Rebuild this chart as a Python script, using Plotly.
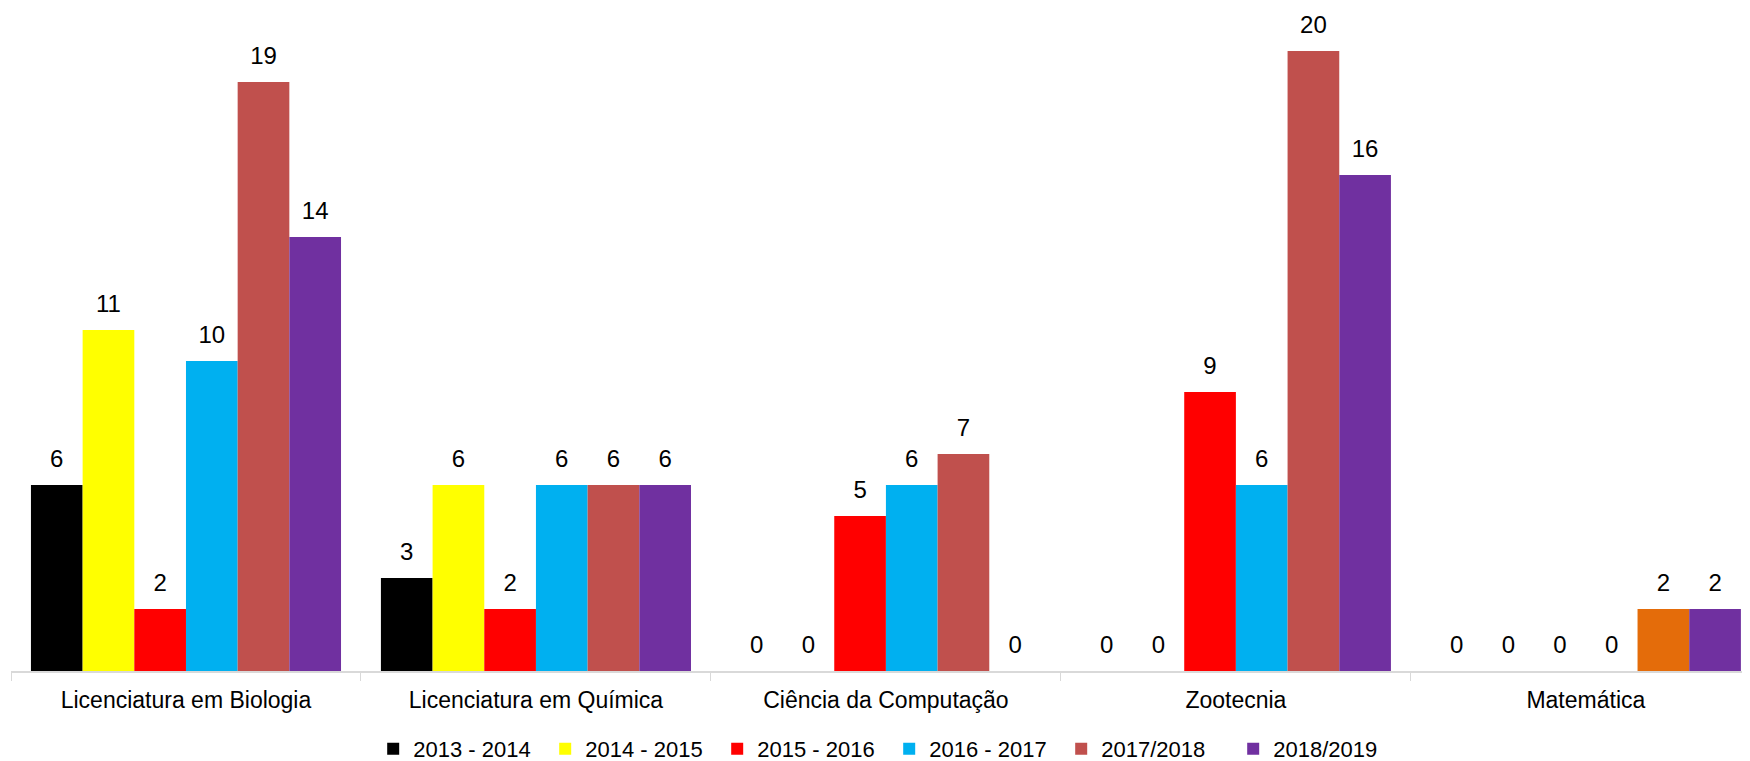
import plotly.graph_objects as go

cursos = ['Licenciatura em Biologia', 'Licenciatura em Química', 'Ciência da Computação',
          'Zootecnia', 'Matemática']
periodos = ['2013 - 2014', '2014 - 2015', '2015 - 2016', '2016 - 2017', '2017/2018', '2018/2019']

v_2013 = [6, 3, 0, 0, 0]
v_2014 = [11, 6, 0, 0, 0]
v_2015 = [2, 2, 5, 9, 0]
v_2016 = [10, 6, 6, 6, 0]
v_2017 = [19, 6, 7, 20, 2]
v_2018 = [14, 6, 0, 16, 2]

cores = ['#000000', '#FFFF00', '#FF0000', '#00B0F0', '#C0504D', '#7030A0']
# Matemática 2017/2018 aparece em laranja no original
cores_2017 = ['#C0504D', '#C0504D', '#C0504D', '#C0504D', '#E46C0A']

series = [v_2013, v_2014, v_2015, v_2016, v_2017, v_2018]

fig = go.Figure()
for i, (nome, valores) in enumerate(zip(periodos, series)):
    cor = cores_2017 if nome == '2017/2018' else cores[i]
    fig.add_trace(go.Bar(
        x=cursos, y=valores, name=nome, offsetgroup=str(i),
        marker=dict(color=cor, line=dict(width=0)),
    ))

# rótulos de dados: marcador invisível empurra o texto para cima
for i, valores in enumerate(series):
    fig.add_trace(go.Scatter(
        x=cursos, y=valores, mode='markers+text', offsetgroup=str(i),
        text=valores, textposition='top center', showlegend=False, hoverinfo='skip',
        marker=dict(size=18, opacity=0),
        textfont=dict(size=24, color='#000000', family='Arial'),
        cliponaxis=False,
    ))

# a página tem 8px de margem no body, por isso 1742x753
fig.update_layout(
    width=1742, height=753,
    barmode='group', bargap=0.114, bargroupgap=0,
    scattermode='group', scattergap=0.114,
    plot_bgcolor='white', paper_bgcolor='white',
    margin=dict(l=3, r=0, t=0, b=90, autoexpand=False),
    font=dict(family='Arial', size=22, color='#000000'),
    legend=dict(orientation='h', x=0.505, xanchor='center', y=-0.086, yanchor='top',
                font=dict(size=22), entrywidth=127, itemwidth=30,
                traceorder='normal'),
    xaxis=dict(range=[-0.5, 4.469], showline=True, linecolor='#D9D9D9', linewidth=2,
               ticks='outside', tickson='boundaries', ticklen=8, tickcolor='#D9D9D9',
               showgrid=False, tickfont=dict(size=23), ticklabelstandoff=7,
               automargin=False, fixedrange=True),
    yaxis=dict(range=[0, 21.39], visible=False, showgrid=False, automargin=False),
)

fig.write_html("out.html")
